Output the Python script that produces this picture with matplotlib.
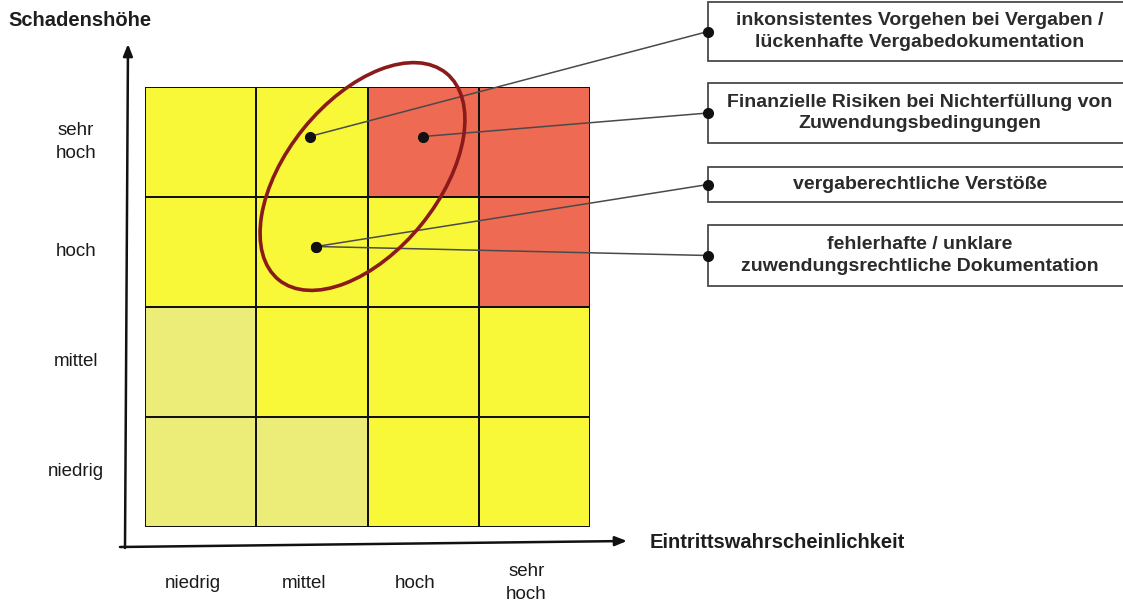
import matplotlib
matplotlib.use('Agg')
import matplotlib.pyplot as plt
import matplotlib.transforms as mtransforms
from matplotlib.patches import Ellipse, Rectangle, ConnectionPatch
from matplotlib.colors import ListedColormap
from matplotlib import font_manager
import numpy as np

# axis categories
level_names = ["niedrig", "mittel", "hoch", "sehr\nhoch"]

# risk class per cell: rows = Schadenshöhe (niedrig -> sehr hoch),
# columns = Eintrittswahrscheinlichkeit (niedrig -> sehr hoch)
risk_matrix = [
    [0, 0, 1, 1],
    [0, 1, 1, 1],
    [1, 1, 1, 2],
    [1, 1, 2, 2],
]
class_colors = ["#ecec78", "#f8f838", "#ee6a53"]

# the risks and where they sit in the matrix
risk_labels = [
    "inkonsistentes Vorgehen bei Vergaben /\nlückenhafte Vergabedokumentation",
    "Finanzielle Risiken bei Nichterfüllung von\nZuwendungsbedingungen",
    "vergaberechtliche Verstöße",
    "fehlerhafte / unklare\nzuwendungsrechtliche Dokumentation",
]
risk_x = [1.48, 2.50, 1.54, 1.54]
risk_y = [3.55, 3.55, 2.55, 2.55]

# callout boxes (pixel rows, top / bottom)
box_top = [2, 83, 167, 225]
box_bottom = [61, 143, 202, 286]

names = {f.name for f in font_manager.fontManager.ttflist}
if "Liberation Sans Narrow" in names:
    label_font, label_size = "Liberation Sans Narrow", 16
else:
    label_font, label_size = "Liberation Sans", 13.5

W, H = 1123, 601
fig = plt.figure(figsize=(W / 100, H / 100), dpi=100)
fig.patch.set_facecolor("white")
ax = fig.add_axes([145 / W, (H - 527) / H, 445 / W, 440 / H])

# pixel coordinates, origin top left
px = mtransforms.Affine2D().scale(1 / 100, -1 / 100).translate(0, H / 100) + fig.dpi_scale_trans

cmap = ListedColormap(class_colors)
ax.pcolormesh(np.arange(5), np.arange(5), np.array(risk_matrix), cmap=cmap,
              vmin=-0.5, vmax=2.5, edgecolors="#111111", linewidth=1.1)
ax.set_xlim(0, 4)
ax.set_ylim(0, 4)
ax.axis("off")

# category labels
for i, name in enumerate(level_names):
    ax.text(-0.62, i + 0.5, name, ha="center", va="center", family=label_font,
            fontsize=label_size, color="#1a1a1a", linespacing=1.4, clip_on=False)
    ax.text(i + 0.43, -0.51, name, ha="center", va="center", family=label_font,
            fontsize=label_size, color="#1a1a1a", linespacing=1.4, clip_on=False)

# axis arrows
arrow = dict(arrowstyle="-|>,head_length=0.7,head_width=0.28", lw=1.8,
             color="#111111", shrinkA=0, shrinkB=0)
ax.annotate("", xy=(128, 44), xytext=(125, 548), xycoords=px, textcoords=px,
            arrowprops=arrow, annotation_clip=False)
ax.annotate("", xy=(627, 541), xytext=(120, 547), xycoords=px, textcoords=px,
            arrowprops=arrow, annotation_clip=False)
ax.text(8, 20, "Schadenshöhe", transform=px, ha="left", va="center",
        family="Liberation Sans", fontweight="bold", fontsize=14.5, color="#1e1e1e")
ax.text(650, 542, "Eintrittswahrscheinlichkeit", transform=px, ha="left", va="center",
        family="Liberation Sans", fontweight="bold", fontsize=14.5, color="#1e1e1e")

# ellipse around the cluster
ax.add_patch(Ellipse((362.5, 176.5), 266, 152, angle=-51, transform=px, fill=False,
                     ec="#8b1a1a", lw=2.6, clip_on=False, zorder=5))

# callouts
box_mid = [(t + b) / 2 for t, b in zip(box_top, box_bottom)]
for lab, x, y, t, b, m in zip(risk_labels, risk_x, risk_y, box_top, box_bottom, box_mid):
    ax.add_patch(Rectangle((708, t), 440, b - t, transform=px, fc="white", ec="#4a4a4a",
                           lw=1.3, clip_on=False, zorder=3))
    ax.text(920, m, lab, transform=px, ha="center", va="center", family="Liberation Sans",
            fontweight="bold", fontsize=14, color="#2b2b2b", linespacing=1.36, zorder=8)
    cp = ConnectionPatch(xyA=(x, y), coordsA=ax.transData, xyB=(708, m), coordsB=px,
                         color="#4a4a4a", lw=1.1, zorder=4)
    ax.add_artist(cp)

ax.plot(risk_x, risk_y, "o", ms=7, color="#111111", clip_on=False, zorder=6)
ax.plot([708] * len(box_mid), box_mid, "o", ms=7, color="#111111", transform=px,
        clip_on=False, zorder=7)

fig.savefig("out.png", dpi=100)
